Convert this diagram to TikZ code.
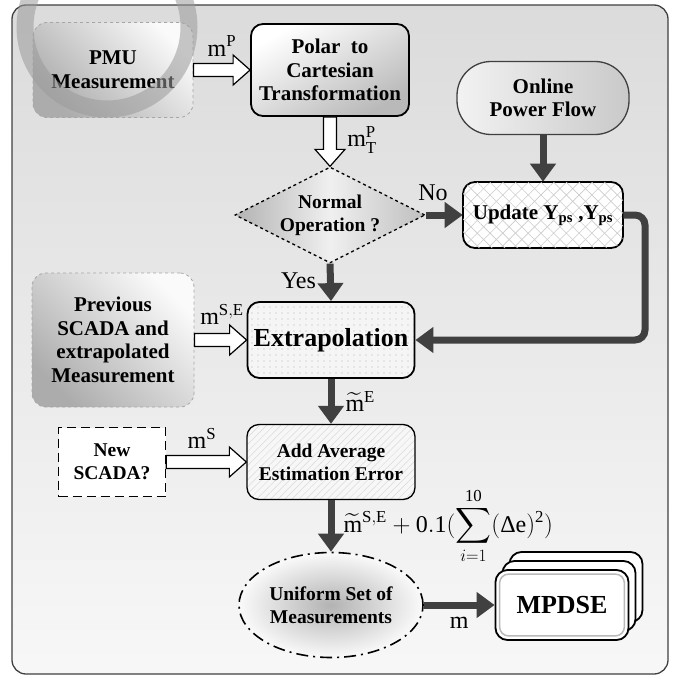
\documentclass[tikz,border=0pt]{standalone}
\usepackage{amsmath}
\usepackage{fontspec}
\setmainfont{Liberation Serif}
\usetikzlibrary{arrows.meta,patterns,patterns.meta,shapes.geometric,calc}
\definecolor{fcDark}{HTML}{404040}
\definecolor{fcRing}{HTML}{9A9A9A}
\newcommand\fcboxfont{\bfseries\fontsize{21}{23.5}\selectfont}
\newcommand\fcmidfont{\bfseries\fontsize{19.5}{23}\selectfont}
\newcommand\fcbigfont{\bfseries\fontsize{26}{29}\selectfont}
\newcommand\fclabelfont{\fontsize{24}{26}\selectfont}
\tikzset{
  fc frame/.style={draw=fcDark, line width=1.3pt, rounded corners=14pt, top color=gray!28, bottom color=gray!6},
  fc box/.style={draw=black, line width=1.8pt, rounded corners=12pt, align=center, font=\fcboxfont, inner sep=2pt},
  fc source/.style={draw=gray!70, dashed, line width=0.8pt, rounded corners=14pt, align=center, font=\fcboxfont,
    top color=gray!65, bottom color=gray!4, shading angle=135},
  fc decision/.style={diamond, aspect=2, inner sep=0pt, draw=black, dashed, line width=1.3pt, align=center,
    font=\fcmidfont, left color=gray!60, right color=gray!50, middle color=gray!12,
    minimum width=190pt, minimum height=96pt},
  fc query/.style={draw=black, dash pattern=on 9pt off 5pt, line width=1.5pt, fill=white, align=center,
    font=\fcmidfont, minimum width=107pt, minimum height=69pt},
  fc set/.style={ellipse, draw=black, dash pattern=on 12pt off 5pt on 2pt off 5pt, line width=1.6pt,
    align=center, font=\fcmidfont, inner color=gray!60, outer color=gray!4,
    minimum width=181pt, minimum height=105pt},
  fc stack/.style={draw=black, line width=1.8pt, rounded corners=12pt, fill=white,
    minimum width=133pt, minimum height=70pt},
  fc cross/.style={preaction={fill=white}, pattern={Lines[angle=45,distance=9pt,line width=0.6pt]},
    pattern color=gray!40, postaction={pattern={Lines[angle=-45,distance=9pt,line width=0.6pt]}, pattern color=gray!40}},
  fc dotted/.style={preaction={fill=gray!8}, pattern={Dots[distance=6pt,radius=0.55pt]}, pattern color=gray!60},
  fc hatch/.style={preaction={fill=gray!6}, pattern={Lines[angle=45,distance=5pt,line width=0.5pt]}, pattern color=gray!30},
  fc thick/.style={draw=fcDark, line width=7pt, -{Triangle[length=18pt,width=25pt]}},
  % block arrow: shaft 13pt, head 30pt wide and 17pt long
  fc hollow/.style={draw=black, line width=1.2pt, fill=white, line join=miter,
    to path={let \p1=($(\tikztotarget)-(\tikztostart)$), \n1={atan2(\y1,\x1)}, \n2={veclen(\x1,\y1)} in
      [shift={(\tikztostart)}, rotate=\n1]
      (0pt,-6.5pt) -- (\n2-17pt,-6.5pt) -- (\n2-17pt,-15pt) -- (\n2,0pt)
      -- (\n2-17pt,15pt) -- (\n2-17pt,6.5pt) -- (0pt,6.5pt) -- cycle \tikztonodes}},
  fc label/.style={font=\fclabelfont, inner sep=1pt},
}

\begin{document}
\begin{tikzpicture}[x=1pt,y=-1pt]
  \useasboundingbox (0,0) rectangle (680,685);
  \clip (0,0) rectangle (680,685);
  \draw[fc frame] (12,5) rectangle (668,674);
  % inputs and processing blocks
  \node[fc source, minimum width=160pt, minimum height=95pt] (pmu) at (113,70) {PMU\\Measurement};
  \node[fc box, top color=white, bottom color=gray!55, shading angle=30,
    minimum width=158pt, minimum height=92pt] (polar) at (330,70) {Polar~ to\\Cartesian\\Transformation};
  \node[fc box, draw=fcDark, line width=1.3pt, rounded corners=34pt, left color=gray!10, right color=gray!42,
    minimum width=172pt, minimum height=73pt] (online) at (543,98) {Online\\Power Flow};
  \node[fc decision] (normal) at (330,215) {Normal\\Operation ?};
  \node[fc box, fc cross, minimum width=160pt, minimum height=66pt] (update) at (543,215)
    {Update Y\textsubscript{ps} ,Y\textsubscript{ps}};
  \node[fc source, minimum width=162pt, minimum height=134pt] (prev) at (113,340) {Previous\\SCADA and\\extrapolated\\Measurement};
  \node[fc box, fc dotted, font=\fcbigfont, minimum width=167pt, minimum height=76pt] (extrap) at (331,340) {Extrapolation};
  \node[fc query] (newscada) at (112,462) {New\\SCADA?};
  \node[fc box, fc hatch, font=\fcmidfont, line width=1.3pt, minimum width=168pt, minimum height=75pt]
    (addavg) at (331,462) {Add Average\\Estimation Error};
  \node[fc set] (uniform) at (331,605) {Uniform Set of\\Measurements};
  \node[fc stack] (mpdse back) at (576,587) {};
  \node[fc stack] (mpdse mid) at (569,596) {};
  \node[fc stack, font=\fcbigfont] (mpdse) at (562,605) {MPDSE};
  \draw[gray!55, line width=1.5pt, rounded corners=9pt] ([shift={(5pt,-5pt)}]mpdse.north west) rectangle ([shift={(-5pt,5pt)}]mpdse.south east);
  % watermark ring
  \draw[fcRing, line width=17pt, opacity=0.55] (107,27) circle[radius=82];
  % flow
  \draw[fc hollow] (pmu.east) to (polar.west);
  \node[fc label] (mp) at (222,46) {$\mathrm{m}^{\mathrm{P}}$};
  \draw[fc hollow] (polar.south) to (normal.north);
  \node[fc label] (mtp) at (362,140) {$\mathrm{m}_{\mathrm{T}}^{\mathrm{P}}$};
  \draw[fc thick] (online.south) -- (update.north);
  \draw[fc thick] (normal.east) -- (update.west) node[fc label, pos=0.2, above=10pt] {No};
  \draw[fc thick] (normal.south) -- (extrap.north) node[fc label, pos=0.45, left=10pt] {Yes};
  \draw[fc thick, rounded corners=10pt] (update.east) -- (645,215) -- (645,340) -- (extrap.east);
  \draw[fc hollow] (prev.east) to (extrap.west);
  \node[fc label] (mse) at (222,314) {$\mathrm{m}^{\mathrm{S,E}}$};
  \draw[fc thick] (extrap.south) -- (addavg.north) node[fc label, midway, right=10pt] {$\widetilde{\mathrm{m}}^{\mathrm{E}}$};
  \draw[fc hollow] (newscada.east) to (addavg.west);
  \node[fc label] (ms) at (202,438) {$\mathrm{m}^{\mathrm{S}}$};
  \draw[fc thick] (addavg.south) -- (uniform.north) node[fc label, midway, right=8pt]
    {$\displaystyle\widetilde{\mathrm{m}}^{\mathrm{S,E}}+\mathrm{0.1}(\sum_{i=1}^{\mathrm{10}}(\textnormal{Δ}\mathrm{e})^{\mathrm{2}})$};
  \draw[fc thick] (uniform.east) -- (mpdse.west) node[fc label, midway, below=8pt] {m};
\end{tikzpicture}
\end{document}
